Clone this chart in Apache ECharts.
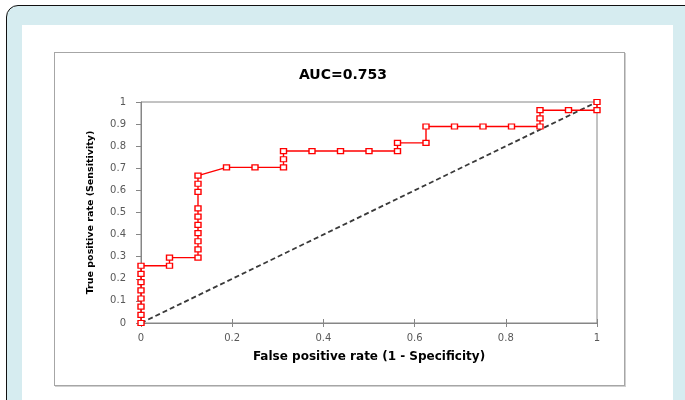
<!DOCTYPE html>
<html>
<head>
<meta charset="utf-8">
<script src="https://cdn.jsdelivr.net/npm/echarts@6/dist/echarts.min.js"></script>
<style>
  html, body { margin: 0; padding: 0; width: 685px; height: 400px; overflow: hidden; background: #fff; }
  .frame { position: absolute; left: 6px; top: 5px; width: 700px; height: 420px;
           background: #d6ecf0; border: 1.5px solid #111; border-radius: 12px; box-sizing: border-box; }
  .paper { position: absolute; left: 22px; top: 25px; width: 651px; height: 400px; background: #fff; }
  .chart-box { position: absolute; left: 54px; top: 52px; width: 571px; height: 334px;
               border: 1px solid #a6a6a6; box-shadow: 1px 1px 0 #d0d0d0; box-sizing: border-box; }
  #chart { position: absolute; left: 0; top: 0; width: 685px; height: 400px; }
</style>
</head>
<body>
<div class="frame"></div>
<div class="paper"></div>
<div class="chart-box"></div>
<div id="chart"></div>
<script>
// ROC curve points
const fpr = [0, 0, 0, 0, 0, 0, 0, 0,
  0.0625, 0.0625,
  0.125, 0.125, 0.125, 0.125, 0.125, 0.125, 0.125, 0.125, 0.125, 0.125,
  0.1875, 0.25,
  0.3125, 0.3125, 0.3125,
  0.375, 0.4375, 0.5,
  0.5625, 0.5625,
  0.625, 0.625,
  0.6875, 0.75, 0.8125,
  0.875, 0.875, 0.875,
  0.9375, 1, 1]
const tpr = [0, 0.037, 0.074, 0.111, 0.148, 0.185, 0.222, 0.259,
  0.259, 0.296,
  0.296, 0.333, 0.370, 0.407, 0.444, 0.481, 0.519, 0.593, 0.630, 0.667,
  0.704, 0.704,
  0.704, 0.741, 0.778,
  0.778, 0.778, 0.778,
  0.778, 0.815,
  0.815, 0.889,
  0.889, 0.889, 0.889,
  0.889, 0.926, 0.963,
  0.963, 0.963, 1]

// reference diagonal
const diagX = [0, 1]
const diagY = [0, 1]

const titleText = 'AUC=0.753'
const xName = 'False positive rate (1 - Specificity)'
const yName = 'True positive rate (Sensitivity)'

const font = 'DejaVu Sans'
const axisGray = '#868686'

const chart = echarts.init(document.getElementById('chart'))

const option = {
  animation: false,
  backgroundColor: 'transparent',
  title: {
    text: titleText,
    left: 338,
    textAlign: 'center',
    top: 63,
    textStyle: { fontFamily: font, fontSize: 14, fontWeight: 'bold', color: '#000' }
  },
  grid: {
    left: 141, right: 88, top: 102, bottom: 77,
    show: true, borderColor: axisGray, borderWidth: 1, backgroundColor: 'transparent'
  },
  xAxis: [
    {
      type: 'value', min: 0, max: 1, interval: 0.2, position: 'bottom',
      name: xName, nameLocation: 'middle', nameGap: 28,
      nameTextStyle: { fontFamily: font, fontSize: 12, fontWeight: 'bold', color: '#000' },
      axisLine: { lineStyle: { color: axisGray, width: 1 } },
      axisTick: { show: true, length: 4, lineStyle: { color: axisGray } },
      axisLabel: { fontFamily: font, fontSize: 10, color: '#595959', margin: 10 },
      splitLine: { show: false }
    },
    {
      type: 'value', min: 0, max: 1, interval: 0.2, position: 'bottom',
      axisLine: { show: false },
      axisTick: { show: true, inside: true, length: 4, lineStyle: { color: axisGray } },
      axisLabel: { show: false },
      splitLine: { show: false }
    }
  ],
  yAxis: {
    type: 'value', min: 0, max: 1, interval: 0.1,
    name: yName, nameLocation: 'middle', nameGap: 45,
    nameTextStyle: { fontFamily: font, fontSize: 9.5, fontWeight: 'bold', color: '#000' },
    axisLine: { show: true, lineStyle: { color: axisGray, width: 1 } },
    axisTick: { show: true, length: 5, lineStyle: { color: axisGray } },
    axisLabel: { fontFamily: font, fontSize: 10, color: '#595959', margin: 15 },
    splitLine: { show: false }
  },
  series: [
    {
      type: 'line',
      data: diagX.map((x, i) => [x, diagY[i]]),
      showSymbol: false,
      lineStyle: { color: '#3a3a3a', width: 1.8, type: [5, 3] },
      z: 1
    },
    {
      type: 'line',
      data: fpr.map((x, i) => [x, tpr[i]]),
      symbol: 'rect',
      symbolSize: [6, 5],
      showAllSymbol: true,
      lineStyle: { color: '#ff0000', width: 1.4 },
      itemStyle: { color: '#ffffff', borderColor: '#ff0000', borderWidth: 1.3 },
      z: 3
    }
  ]
}

chart.setOption(option)
</script>
</body>
</html>
